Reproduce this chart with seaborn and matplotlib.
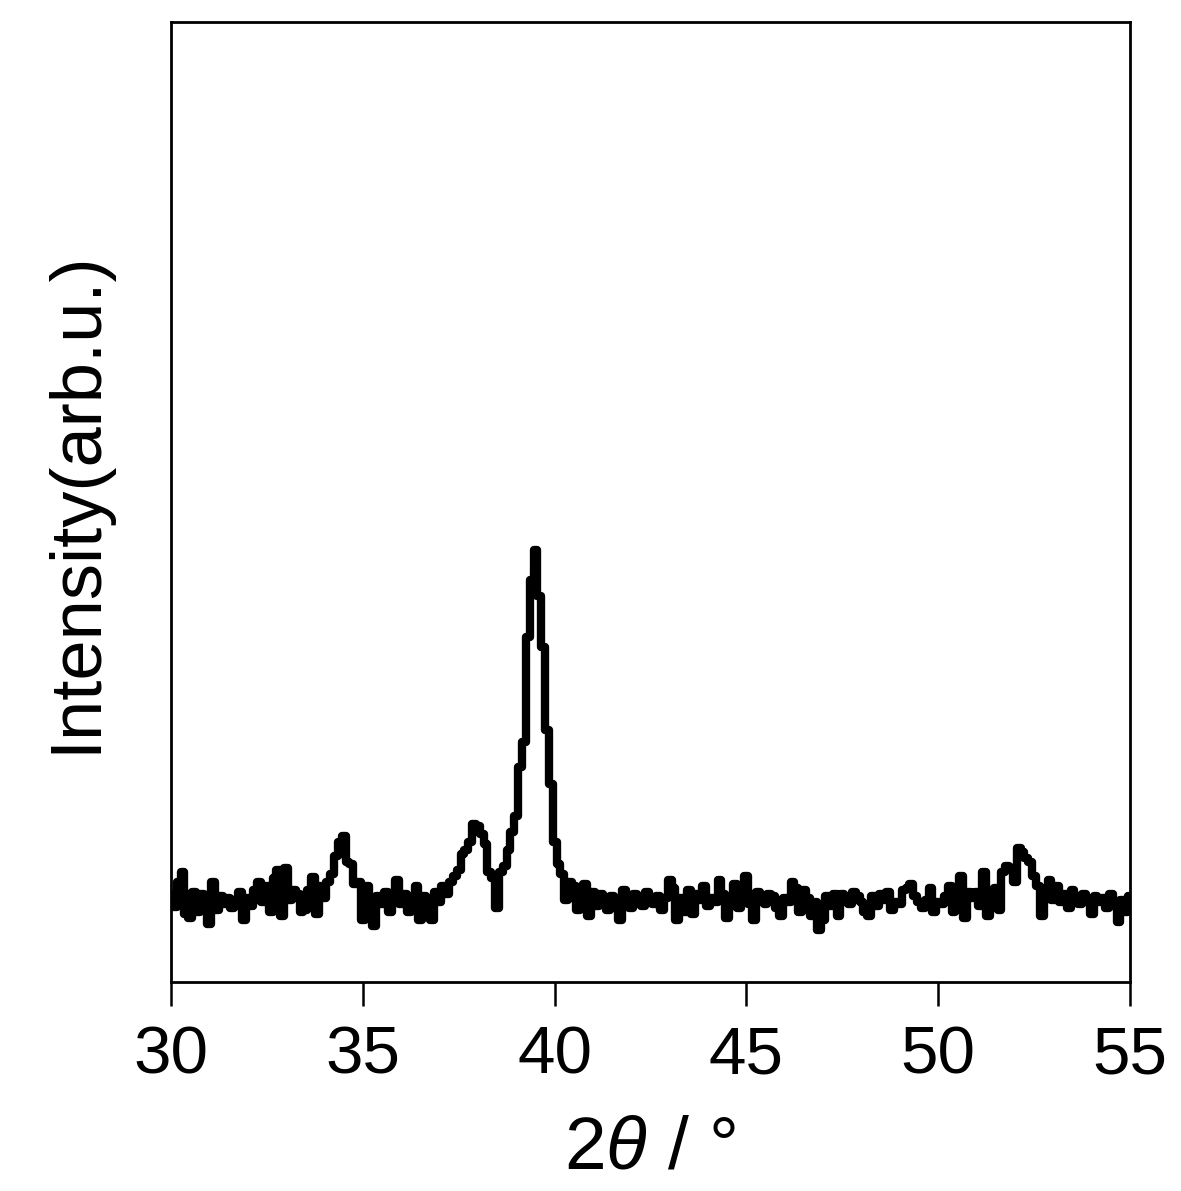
import numpy as np
import pandas as pd
import matplotlib
matplotlib.use("Agg")
import matplotlib.pyplot as plt
import seaborn as sns

# scan grid: 30-55 deg, 0.1 deg step
two_theta = np.round(np.arange(30.0, 55.0001, 0.1), 1)

# intensities (arb. units), one per 0.1 deg
intensity = [
    88, 75, 100, 110, 68, 64, 90, 70, 88, 80, 58,           # 30.0 - 31.0
    100, 72, 86, 78, 84, 74, 82, 90, 62, 84,                # 31.1 - 32.0
    76, 92, 100, 80, 96, 70, 104, 112, 66, 114,             # 32.1 - 33.0
    82, 92, 88, 70, 72, 92, 105, 68, 96, 84,                # 33.1 - 34.0
    100, 108, 126, 140, 146, 120, 118, 98, 100, 62,         # 34.1 - 35.0
    96, 84, 56, 86, 78, 90, 70, 84, 102, 78,                # 35.1 - 36.0
    88, 70, 84, 96, 62, 86, 74, 62, 90, 80,                 # 36.1 - 37.0
    96, 88, 100, 106, 112, 128, 132, 140, 158, 156,         # 37.1 - 38.0
    148, 138, 110, 104, 74, 110, 116, 132, 150, 166,        # 38.1 - 39.0
    215, 240, 345, 402, 432, 386, 335, 252, 198, 140,       # 39.1 - 40.0
    118, 108, 82, 100, 96, 72, 90, 98, 66, 90,              # 40.1 - 41.0
    76, 88, 80, 72, 86, 78, 62, 92, 84, 74,                 # 41.1 - 42.0
    88, 80, 76, 90, 84, 78, 86, 72, 84, 102,                # 42.1 - 43.0
    94, 62, 84, 70, 92, 68, 88, 82, 96, 76,                 # 43.1 - 44.0
    84, 80, 102, 88, 64, 82, 98, 74, 86, 106,               # 44.1 - 45.0
    78, 62, 90, 84, 78, 88, 86, 74, 66, 84,                 # 45.1 - 46.0
    80, 100, 94, 70, 92, 84, 66, 80, 52, 62,                # 46.1 - 47.0
    86, 76, 88, 66, 88, 84, 78, 90, 86, 80,                 # 47.1 - 48.0
    70, 66, 86, 76, 88, 82, 90, 72, 80, 78,                 # 48.1 - 49.0
    92, 94, 98, 86, 80, 74, 82, 94, 70, 80,                 # 49.1 - 50.0
    78, 86, 96, 70, 92, 106, 64, 90, 84, 90,                # 50.1 - 51.0
    76, 110, 66, 88, 94, 72, 110, 116, 114, 100,            # 51.1 - 52.0
    134, 130, 124, 120, 106, 96, 66, 88, 102, 82,           # 52.1 - 53.0
    96, 80, 88, 74, 92, 84, 78, 88, 82, 68,                 # 53.1 - 54.0
    86, 80, 84, 74, 88, 78, 60, 82, 70, 86,                 # 54.1 - 55.0
]

x_ticks = [30, 35, 40, 45, 50, 55]

df = pd.DataFrame({"two_theta": two_theta, "intensity": intensity})

sns.set_style("ticks")
plt.rcParams["font.family"] = ["Liberation Sans", "DejaVu Sans"]
plt.rcParams["mathtext.fontset"] = "custom"
plt.rcParams["mathtext.it"] = "Liberation Sans:italic"
plt.rcParams["mathtext.rm"] = "Liberation Sans"
plt.rcParams["text.color"] = "black"
plt.rcParams["axes.labelcolor"] = "black"
plt.rcParams["xtick.color"] = "black"

fig = plt.figure(figsize=(11.81, 11.91), dpi=100)
ax = fig.add_axes([0.1448, 0.1755, 0.8120, 0.8060])

sns.lineplot(data=df, x="two_theta", y="intensity", color="black",
             linewidth=6, drawstyle="steps-mid", ax=ax)

ax.set_xlim(30, 55)
ax.set_ylim(0, 960)
ax.set_xticks(x_ticks)
ax.set_yticks([])
ax.tick_params(axis="x", direction="out", length=17, width=1.8,
               labelsize=48.5, pad=14, colors="black")

for s in ax.spines.values():
    s.set_linewidth(2)
    s.set_color("black")

ax.set_xlabel(r"2$\mathit{\theta}$ / °", fontsize=54, labelpad=20)
ax.set_ylabel("Intensity(arb.u.)", fontsize=52, labelpad=44)

fig.savefig("out.png", dpi=100)
